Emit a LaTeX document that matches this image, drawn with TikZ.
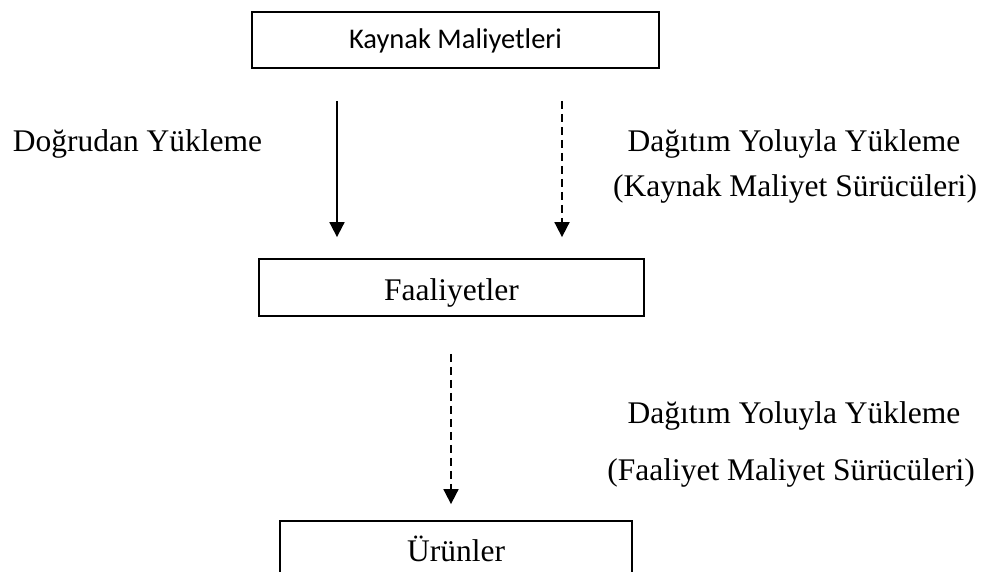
\documentclass[tikz,border=0pt]{standalone}
\usepackage{fontspec}
\setmainfont{Liberation Serif}
\newfontfamily\calibri{Carlito}
\usetikzlibrary{arrows.meta,positioning}

\begin{document}
\begin{tikzpicture}[x=1pt,y=-1pt,
    kutu/.style={rectangle,draw=black,line width=1.8pt,inner sep=0pt},
    etiket/.style={inner sep=0pt,anchor=base,font=\fontsize{31.5}{38}\selectfont},
    yukle/.style={line width=1.8pt,-{Triangle[width=15pt,length=15pt]}},
    dagit/.style={yukle,dash pattern=on 8pt off 5pt}]
  \useasboundingbox (0,0) rectangle (992,572);

  % kutular
  \node[kutu,minimum width=407pt,minimum height=56pt,text height=18pt,text depth=0pt,
    font=\calibri\fontsize{28.5}{34}\selectfont] (kaynak) at (455.5,40) {Kaynak Maliyetleri};
  \node[kutu,minimum width=385pt,minimum height=57pt,text height=25pt,text depth=0pt,
    font=\fontsize{31.5}{38}\selectfont] (faaliyet) at (451.5,287.5) {Faaliyetler};
  \node[kutu,minimum width=352pt,minimum height=57pt,text height=23pt,text depth=0pt,
    font=\fontsize{31.5}{38}\selectfont] (urun) at (456,549.5) {Ürünler};

  % oklar
  \coordinate (dogru) at (337,0);
  \coordinate (dagitA) at (562,0);
  \coordinate (dagitB) at (451,0);

  \draw[yukle,shorten <=32pt,shorten >=21pt] (kaynak.south -| dogru) -- (faaliyet.north -| dogru);
  \draw[dagit,shorten <=32pt,shorten >=21pt] (kaynak.south -| dagitA) -- (faaliyet.north -| dagitA);
  \draw[dagit,shorten <=37pt,shorten >=16pt] (faaliyet.south -| dagitB) -- (urun.north -| dagitB);

  % etiketler
  \node[etiket] (dogruyaz) at (137.5,152) {Doğrudan Yükleme};
  \node[etiket] (dagityazA) at (794,152) {Dağıtım Yoluyla Yükleme};
  \node[etiket] (surucuA) at (795,196) {(Kaynak Maliyet Sürücüleri)};
  \node[etiket] (dagityazB) at (794,423) {Dağıtım Yoluyla Yükleme};
  \node[etiket] (surucuB) at (791,480) {(Faaliyet Maliyet Sürücüleri)};
\end{tikzpicture}
\end{document}
